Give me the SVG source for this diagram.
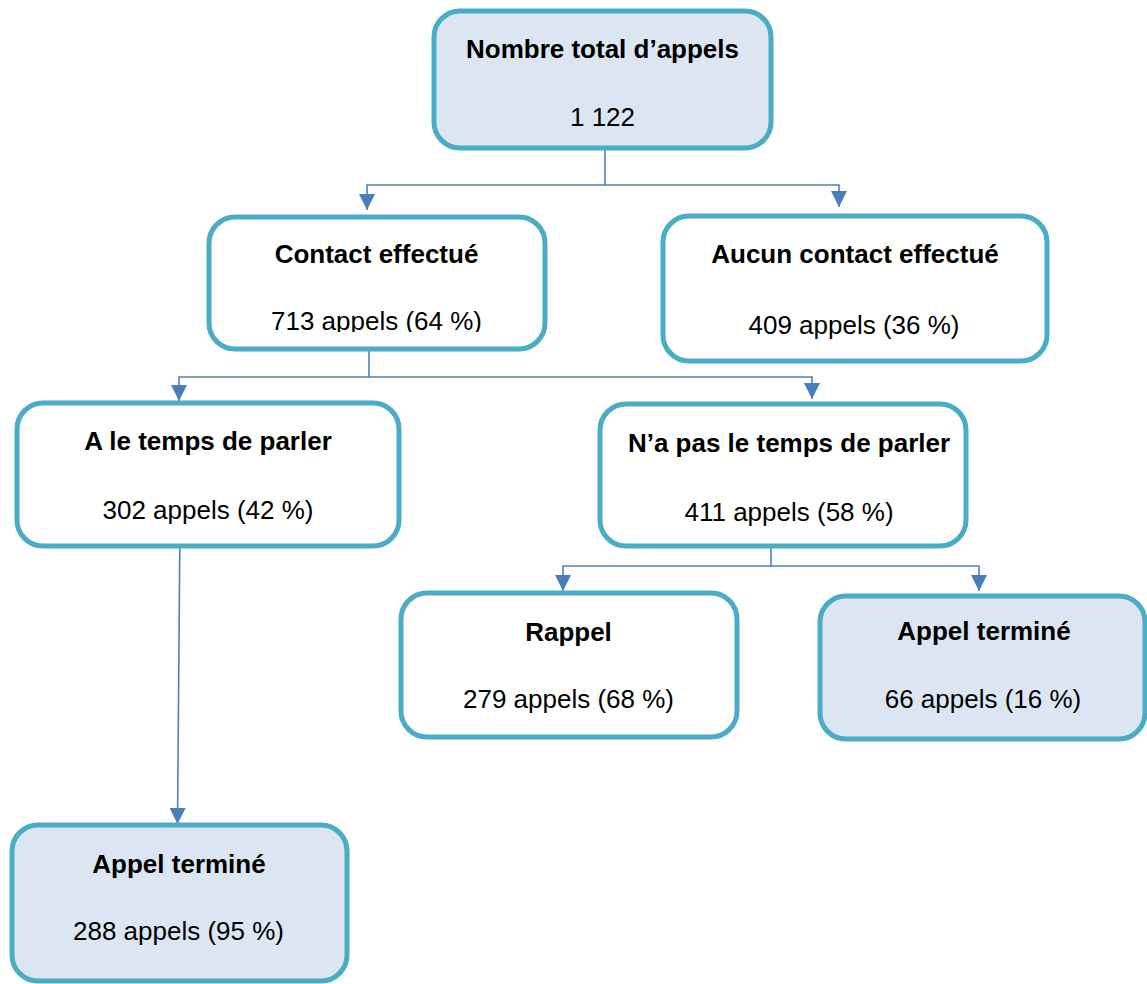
<svg xmlns="http://www.w3.org/2000/svg" width="1147" height="984" viewBox="0 0 1147 984">
<style>
.box{stroke:#4bacc6;stroke-width:5;fill:#ffffff}
.fill{fill:#dce6f2}
.t{font-family:"Liberation Sans",Arial,sans-serif;font-size:26px;font-weight:bold;fill:#000;text-anchor:middle}
.n{font-family:"Liberation Sans",Arial,sans-serif;font-size:26px;fill:#000;text-anchor:middle}
.c{fill:none;stroke:#4f81bd;stroke-width:1.6}
</style>
<defs>
<marker id="ah" markerUnits="userSpaceOnUse" markerWidth="18" markerHeight="18" viewBox="0 0 18 18" refX="16" refY="9" orient="auto">
<path d="M0,1 L16,9 L0,17 Z" fill="#4a7ebb"/>
</marker>
<clipPath id="clip2"><rect x="200" y="200" width="360" height="132"/></clipPath>
</defs>
<g id="connectors">
<path class="c" d="M605 143 V185 H367 V210" marker-end="url(#ah)"/>
<path class="c" d="M605 185 H839 V207" marker-end="url(#ah)"/>
<path class="c" d="M369 335 V377 H179 V401" marker-end="url(#ah)"/>
<path class="c" d="M369 377 H812 V399" marker-end="url(#ah)"/>
<path class="c" d="M771 521 V566 H563 V591" marker-end="url(#ah)"/>
<path class="c" d="M771 566 H979 V591" marker-end="url(#ah)"/>
<path class="c" d="M180 521 L177.5 824" marker-end="url(#ah)"/>
</g>
<g id="node-total">
<rect class="box fill" x="434" y="11" width="337" height="137" rx="26"/>
<text class="t" x="602.5" y="58">Nombre total d’appels</text>
<text class="n" x="602.5" y="126">1 122</text>
</g>
<g id="node-contact">
<rect class="box" x="209" y="217" width="336" height="132" rx="26"/>
<text class="t" x="376.5" y="263">Contact effectué</text>
<text class="n" x="376.5" y="330" clip-path="url(#clip2)">713 appels (64 %)</text>
</g>
<g id="node-aucun">
<rect class="box" x="663" y="216" width="384" height="145" rx="26"/>
<text class="t" x="855" y="263">Aucun contact effectué</text>
<text class="n" x="854" y="334">409 appels (36 %)</text>
</g>
<g id="node-temps">
<rect class="box" x="17" y="403" width="382" height="143" rx="26"/>
<text class="t" x="208" y="450">A le temps de parler</text>
<text class="n" x="208" y="519">302 appels (42 %)</text>
</g>
<g id="node-pas-temps">
<rect class="box" x="600" y="404" width="366" height="142" rx="26"/>
<text class="t" x="789" y="452">N’a pas le temps de parler</text>
<text class="n" x="789" y="521">411 appels (58 %)</text>
</g>
<g id="node-rappel">
<rect class="box" x="401" y="593" width="336" height="144" rx="26"/>
<text class="t" x="568.5" y="641">Rappel</text>
<text class="n" x="568.5" y="708">279 appels (68 %)</text>
</g>
<g id="node-termine-1">
<rect class="box fill" x="820" y="596" width="325" height="143" rx="26"/>
<text class="t" x="984" y="640">Appel terminé</text>
<text class="n" x="983" y="708">66 appels (16 %)</text>
</g>
<g id="node-termine-2">
<rect class="box fill" x="12" y="825" width="335" height="156" rx="26"/>
<text class="t" x="179" y="873">Appel terminé</text>
<text class="n" x="178.5" y="940">288 appels (95 %)</text>
</g>
</svg>
